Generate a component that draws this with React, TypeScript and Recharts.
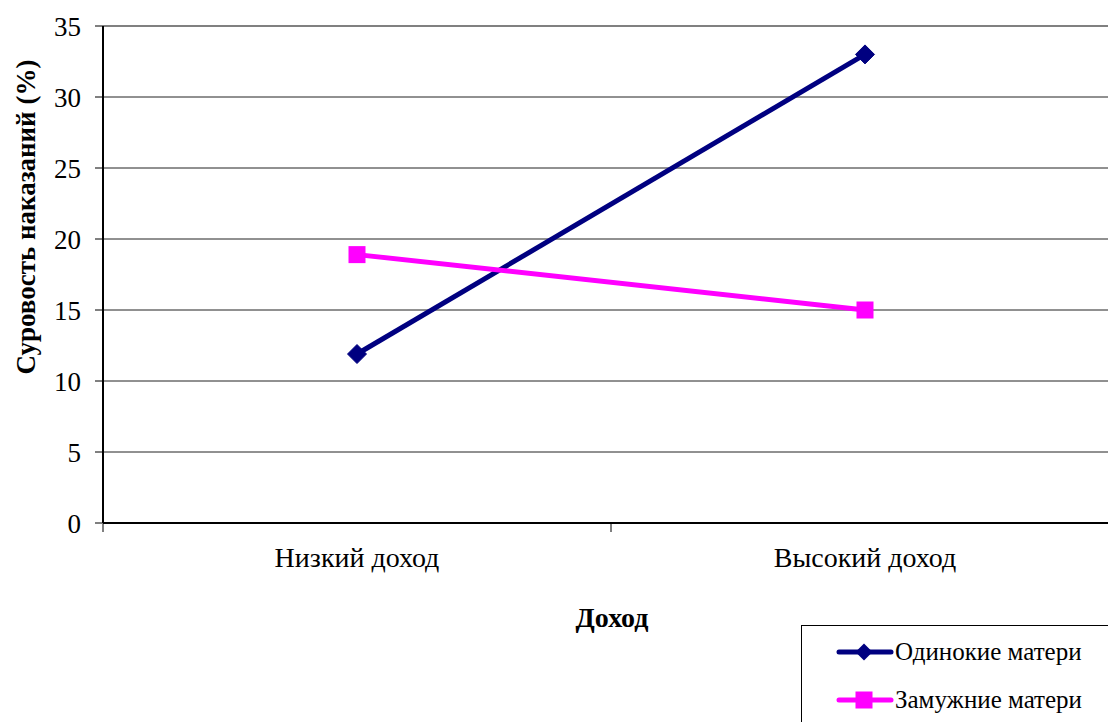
import React from "react";
import {
  LineChart,
  Line,
  XAxis,
  YAxis,
  CartesianGrid,
  Legend,
  ReferenceLine,
} from "recharts";

// Categories (income level) and the two series of punishment severity, %
const categories = ["Низкий доход", "Высокий доход"];
const singleMothers = [11.9, 33];
const marriedMothers = [18.9, 15];
const yTicks = [0, 5, 10, 15, 20, 25, 30, 35];

const seriesNames = { single: "Одинокие матери", married: "Замужние матери" };
const NAVY = "#000080";
const MAGENTA = "#FF00FF";
const FONT = "Liberation Serif, Times New Roman, serif";

const data = categories.map((c, i) => ({
  category: c,
  single: singleMothers[i],
  married: marriedMothers[i],
}));

const CHART_W = 1120;
const CHART_H = 722;
const Y_AXIS_W = 103;
const MARGIN = { top: 26, right: 1, left: 0, bottom: 149 };
const BAND = (CHART_W - Y_AXIS_W - MARGIN.right) / categories.length;

const Diamond = (props: any) => {
  const { cx, cy } = props;
  if (cx == null || cy == null) return null;
  const r = 9.5;
  return (
    <path
      d={`M${cx},${cy - r} L${cx + r},${cy} L${cx},${cy + r} L${cx - r},${cy} Z`}
      fill={NAVY}
      stroke={NAVY}
    />
  );
};

const Square = (props: any) => {
  const { cx, cy } = props;
  if (cx == null || cy == null) return null;
  const h = 8.5;
  return <rect x={cx - h} y={cy - h} width={h * 2} height={h * 2} fill={MAGENTA} />;
};

// Category label centred in its band, with tick marks at the band edges
const XTick = (props: any) => {
  const { x, y, payload, index } = props;
  return (
    <g>
      {index === 0 && (
        <line x1={x - BAND / 2} x2={x - BAND / 2} y1={y - 7} y2={y + 1} stroke="#000" />
      )}
      <line x1={x + BAND / 2} x2={x + BAND / 2} y1={y - 7} y2={y + 1} stroke="#000" />
      <text
        x={x}
        y={y + 36}
        textAnchor="middle"
        fontFamily={FONT}
        fontSize={28}
        fill="#000"
      >
        {payload.value}
      </text>
    </g>
  );
};

const LegendBox = () => (
  <div
    style={{
      position: "relative",
      width: 330,
      height: 110,
      border: "1.5px solid #000",
      background: "#fff",
      boxSizing: "border-box",
      fontFamily: FONT,
      fontSize: 25,
      color: "#000",
    }}
  >
    {[
      { name: seriesNames.single, color: NAVY, shape: "diamond" },
      { name: seriesNames.married, color: MAGENTA, shape: "square" },
    ].map((e, i) => (
      <div
        key={e.name}
        style={{
          position: "absolute",
          left: 34,
          top: 12 + i * 48,
          display: "flex",
          alignItems: "center",
          whiteSpace: "nowrap",
        }}
      >
        <svg width={58} height={24}>
          <line x1={3} x2={55} y1={12} y2={12} stroke={e.color} strokeWidth={5} strokeLinecap="round" />
          {e.shape === "diamond" ? (
            <path d="M28,3.5 L36.5,12 L28,20.5 L19.5,12 Z" fill={e.color} />
          ) : (
            <rect x={19.5} y={3.5} width={17} height={17} fill={e.color} />
          )}
        </svg>
        <span style={{ marginLeft: 1 }}>{e.name}</span>
      </div>
    ))}
  </div>
);

const YTitle = () => (
  <text
    x={0}
    y={0}
    transform="translate(35, 217) rotate(-90)"
    textAnchor="middle"
    fontFamily={FONT}
    fontSize={27}
    fontWeight="bold"
    fill="#000"
  >
    Суровость наказаний (%)
  </text>
);

const XTitle = () => (
  <text
    x={612}
    y={627}
    textAnchor="middle"
    fontFamily={FONT}
    fontSize={28}
    fontWeight="bold"
    fill="#000"
  >
    Доход
  </text>
);

export default function App() {
  return (
    <div
      style={{
        position: "absolute",
        left: 0,
        top: 0,
        width: 1108,
        height: 722,
        overflow: "hidden",
        background: "#fff",
      }}
    >
      <LineChart width={CHART_W} height={CHART_H} data={data} margin={MARGIN}>
        <CartesianGrid vertical={false} stroke="#222" strokeWidth={1} />
        <ReferenceLine y={35} stroke="#808080" strokeWidth={2} ifOverflow="extendDomain" />
        <XAxis
          dataKey="category"
          scale="band"
          height={50}
          axisLine={{ stroke: "#000", strokeWidth: 2 }}
          tickLine={false}
          tick={<XTick />}
          interval={0}
        />
        <YAxis
          width={Y_AXIS_W}
          domain={[0, 35]}
          ticks={yTicks}
          interval={0}
          axisLine={{ stroke: "#000", strokeWidth: 2 }}
          tickLine={{ stroke: "#000" }}
          tickSize={8}
          tickMargin={14}
          tick={{ fontFamily: FONT, fontSize: 27, fill: "#000" }}
        />
        <Line
          dataKey="single"
          name={seriesNames.single}
          stroke={NAVY}
          strokeWidth={5}
          dot={<Diamond />}
          activeDot={false}
          isAnimationActive={false}
        />
        <Line
          dataKey="married"
          name={seriesNames.married}
          stroke={MAGENTA}
          strokeWidth={5}
          dot={<Square />}
          activeDot={false}
          isAnimationActive={false}
        />
        <Legend
          layout="vertical"
          align="center"
          verticalAlign="middle"
          content={<LegendBox />}
          wrapperStyle={{ left: 801, top: 625, width: 330, height: 110 }}
        />
        <YTitle />
        <XTitle />
      </LineChart>
    </div>
  );
}
